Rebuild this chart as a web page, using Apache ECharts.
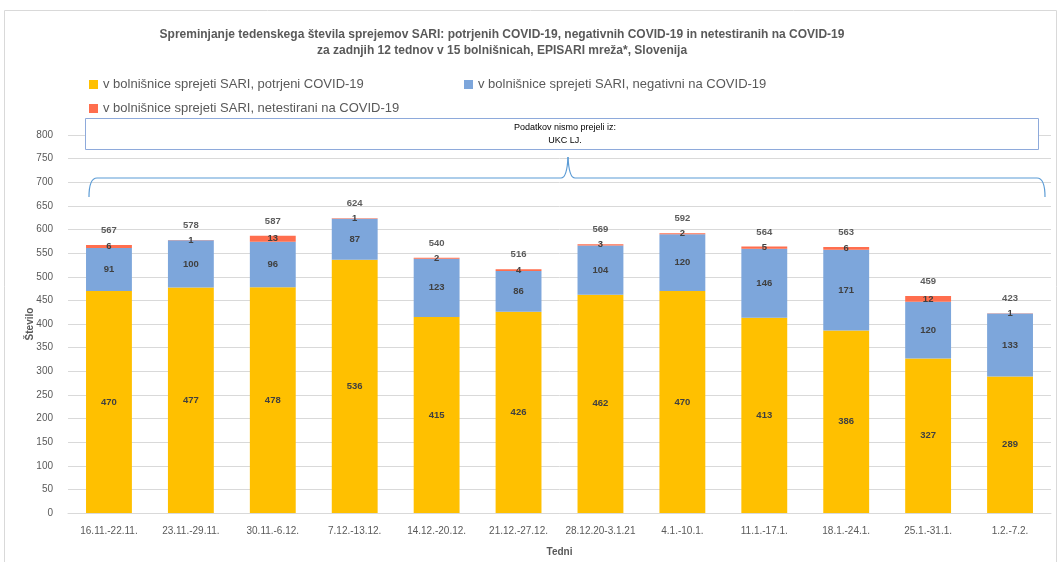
<!DOCTYPE html>
<html><head><meta charset="utf-8">
<script src="https://cdn.jsdelivr.net/npm/echarts@6/dist/echarts.min.js"></script>
<style>html,body{margin:0;padding:0;background:#fff}#c{width:1059px;height:562px}</style>
</head><body><div id="c"></div>
<script>
var categories = ['16.11.-22.11.','23.11.-29.11.','30.11.-6.12.','7.12.-13.12.','14.12.-20.12.','21.12.-27.12.','28.12.20-3.1.21','4.1.-10.1.','11.1.-17.1.','18.1.-24.1.','25.1.-31.1.','1.2.-7.2.'];
var confirmed = [470,477,478,536,415,426,462,470,413,386,327,289];
var negative = [91,100,96,87,123,86,104,120,146,171,120,133];
var untested = [6,1,13,1,2,4,3,2,5,6,12,1];
var totals = [567,578,587,624,540,516,569,592,564,563,459,423];
var names = ['v bolnišnice sprejeti SARI, potrjeni COVID-19','v bolnišnice sprejeti SARI, negativni na COVID-19','v bolnišnice sprejeti SARI, netestirani na COVID-19'];
var colors = ['#FFC000','#7DA6DB','#FF6E4E'];
var F = 'Liberation Sans';
var chart = echarts.init(document.getElementById('c'));
var lbl = {show:true, position:'inside', color:'#404040', fontSize:9.5, fontWeight:'bold', fontFamily:F};
function legend(name, left, top){
  return {data:[name], left:left, top:top, itemWidth:9, itemHeight:9, icon:'rect', itemGap:0,
    textStyle:{color:'#595959', fontSize:13, fontFamily:F}};
}
var braceStyle = {fill:'none', stroke:'#5B9BD5', lineWidth:1.2};
function bez(x1,y1,cx,cy,x2,y2){ return {type:'bezierCurve', shape:{x1:x1,y1:y1,cpx1:cx,cpy1:cy,x2:x2,y2:y2}, style:braceStyle, z:10}; }
function ln(x1,y1,x2,y2){ return {type:'line', shape:{x1:x1,y1:y1,x2:x2,y2:y2}, style:braceStyle, z:10}; }
chart.setOption({
  animation:false,
  textStyle:{fontFamily:F},
  title:{text:'Spreminjanje tedenskega števila sprejemov SARI: potrjenih COVID-19, negativnih COVID-19 in netestiranih na COVID-19\nza zadnjih 12 tednov v 15 bolnišnicah, EPISARI mreža*, Slovenija',
    left:497, top:22, textAlign:'center',
    textStyle:{fontSize:12, fontWeight:'bold', color:'#595959', lineHeight:16, fontFamily:F}},
  legend:[legend(names[0],84,73), legend(names[1],459,73), legend(names[2],84,97)],
  grid:{left:68, right:8, top:135, bottom:45, containLabel:false},
  xAxis:{type:'category', data:categories,
    axisLine:{lineStyle:{color:'#d9d9d9'}}, axisTick:{show:false},
    axisLabel:{color:'#595959', fontSize:10, margin:13, interval:0, fontFamily:F},
    name:'Tedni', nameLocation:'middle', nameGap:34,
    nameTextStyle:{color:'#595959', fontSize:10, fontWeight:'bold', fontFamily:F}},
  yAxis:{type:'value', min:0, max:800, interval:50,
    axisLine:{show:false}, axisTick:{show:false},
    splitLine:{lineStyle:{color:'#d9d9d9'}},
    axisLabel:{color:'#595959', fontSize:10, margin:15, fontFamily:F},
    name:'Število', nameLocation:'middle', nameGap:33, nameRotate:90, nameMoveOverlap:false,
    nameTextStyle:{color:'#595959', fontSize:10, fontWeight:'bold', fontFamily:F}},
  series:[
    {name:names[0], type:'bar', stack:'s', data:confirmed, barWidth:'56%', itemStyle:{color:colors[0]}, label:lbl},
    {name:names[1], type:'bar', stack:'s', data:negative, itemStyle:{color:colors[1]}, label:lbl},
    {name:names[2], type:'bar', stack:'s', data:untested, itemStyle:{color:colors[2]}, label:lbl},
    {name:'Skupaj', type:'scatter', data:totals, symbol:'circle', symbolSize:1, itemStyle:{color:'rgba(0,0,0,0)'}, silent:true, z:5,
      label:{show:true, position:'top', distance:9, color:'#333333', fontSize:9.5, fontWeight:'bold', fontFamily:F}}
  ],
  graphic:[
    {type:'rect', shape:{x:4.5, y:10.5, width:1052, height:560}, style:{fill:'none', stroke:'#d9d9d9', lineWidth:1}, z:-1},
    {type:'rect', shape:{x:85.5, y:118.5, width:953, height:31}, style:{fill:'#fff', stroke:'#8EAADB', lineWidth:1}, z:10},
    {type:'text', x:565, y:128, style:{text:'Podatkov nismo prejeli iz:', textAlign:'center', align:'center', textVerticalAlign:'middle', verticalAlign:'middle', fill:'#000', fontSize:9, fontFamily:F}, z:11},
    {type:'text', x:565, y:141, style:{text:'UKC LJ.', textAlign:'center', align:'center', textVerticalAlign:'middle', verticalAlign:'middle', fill:'#000', fontSize:9, fontFamily:F}, z:11},
    bez(89,197,89,178,97,178), ln(97,178,561,178), bez(561,178,567,178,568,157), bez(568,157,569,178,575,178),
    ln(575,178,1037,178), bez(1037,178,1045,178,1045,197)
  ]
});
</script></body></html>
